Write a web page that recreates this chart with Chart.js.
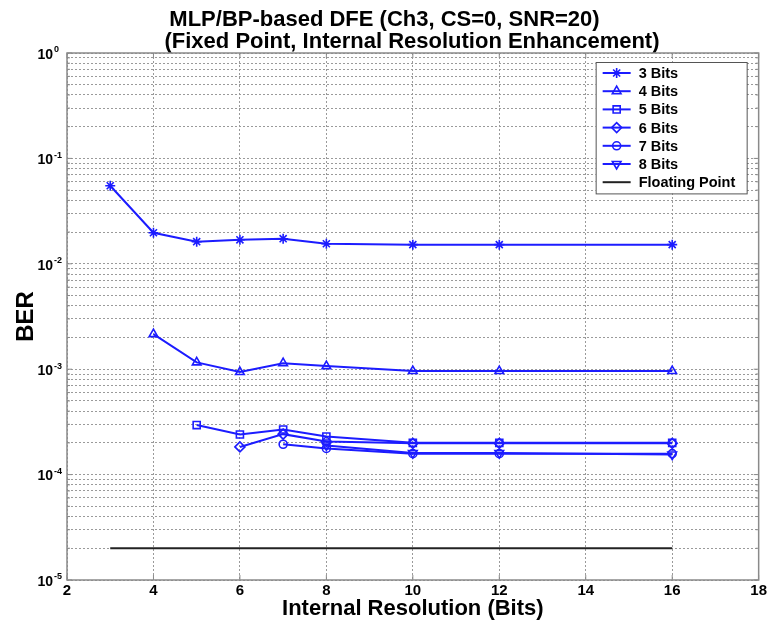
<!DOCTYPE html>
<html>
<head>
<meta charset="utf-8">
<script src="https://cdn.jsdelivr.net/npm/chart.js@4.4.1/dist/chart.umd.min.js"></script>
<style>
  html, body { margin: 0; padding: 0; background: #fff; }
</style>
</head>
<body>
<canvas id="berChart" width="769" height="623"></canvas>
<script>
// resolution interne (bits) testee
const resolution = [3, 4, 5, 6, 7, 8, 10, 12, 16];

// BER, null = pas de point
const ber3 = [0.055, 0.0197, 0.0162, 0.0169, 0.0173, 0.0155, 0.0152, 0.0152, 0.0152];
const ber4 = [null, 0.00215, 0.00116, 0.00094, 0.00114, 0.00107, 0.00096, 0.00096, 0.00096];
const ber5 = [null, null, 2.95e-4, 2.4e-4, 2.68e-4, 2.3e-4, 2.0e-4, 2.0e-4, 2.0e-4];
const ber6 = [null, null, null, 1.83e-4, 2.42e-4, 2.06e-4, 1.98e-4, 1.98e-4, 1.98e-4];
const ber7 = [null, null, null, null, 1.94e-4, 1.77e-4, 1.58e-4, 1.58e-4, 1.58e-4];
const ber8 = [null, null, null, null, null, 1.89e-4, 1.6e-4, 1.6e-4, 1.55e-4];

const seriesNames = ['3 Bits', '4 Bits', '5 Bits', '6 Bits', '7 Bits', '8 Bits'];
const seriesBER = [ber3, ber4, ber5, ber6, ber7, ber8];
const markers = ['star', 'triangle', 'rect', 'rectRot', 'circle', 'triangle'];
const markerRot = [0, 0, 0, 0, 0, 180];

// reference virgule flottante
const fpName = 'Floating Point';
const fpX = [3, 16];
const fpBER = [2e-5, 2e-5];

// axes
const xTicks = [2, 4, 6, 8, 10, 12, 14, 16, 18];
const yExponents = [-5, -4, -3, -2, -1, 0];
const yMinor = [1, 2, 3, 4, 5, 6, 7, 8, 9];

const BLUE = '#1c1cff';
const FONT = "'Liberation Sans', Arial, sans-serif";

const yTickValues = [];
yExponents.forEach(e => {
    if (e === 0) { yTickValues.push(1); return; }
    yMinor.forEach(m => yTickValues.push(parseFloat((m * Math.pow(10, e)).toPrecision(3))));
});

const datasets = seriesBER.map((vals, i) => ({
    label: seriesNames[i],
    data: resolution.map((x, j) => ({ x: x, y: vals[j] })).filter(p => p.y !== null),
    borderColor: BLUE,
    backgroundColor: 'rgba(0,0,0,0)',
    borderWidth: 2,
    pointStyle: markers[i],
    rotation: markerRot[i],
    pointRadius: markers[i] === 'circle' ? 4 : 5,
    pointBorderWidth: 1.6,
    pointBorderColor: BLUE,
    pointBackgroundColor: 'rgba(0,0,0,0)'
}));
datasets.push({
    label: fpName,
    data: fpX.map((x, j) => ({ x: x, y: fpBER[j] })),
    borderColor: '#222',
    borderWidth: 2,
    pointRadius: 0
});

// cadre + petites graduations facon MATLAB
const framePlugin = {
    id: 'frame',
    beforeDatasetsDraw(chart) {
        const { ctx, chartArea: a, scales } = chart;
        ctx.save();
        ctx.strokeStyle = '#8a8a8a';
        ctx.lineWidth = 1.5;
        ctx.strokeRect(a.left, a.top, a.right - a.left, a.bottom - a.top);
        ctx.lineWidth = 1;
        ctx.beginPath();
        xTicks.forEach(v => {
            const px = scales.x.getPixelForValue(v);
            ctx.moveTo(px, a.bottom); ctx.lineTo(px, a.bottom - 5);
            ctx.moveTo(px, a.top); ctx.lineTo(px, a.top + 5);
        });
        yTickValues.forEach(v => {
            const py = scales.y.getPixelForValue(v);
            const len = Math.abs(Math.log10(v) - Math.round(Math.log10(v))) < 1e-6 ? 5 : 3;
            ctx.moveTo(a.left, py); ctx.lineTo(a.left + len, py);
            ctx.moveTo(a.right, py); ctx.lineTo(a.right - len, py);
        });
        ctx.stroke();
        ctx.restore();
    },
    afterDraw(chart) {
        const { ctx, chartArea: a, scales } = chart;
        ctx.save();
        // labels 10^n
        ctx.fillStyle = '#000';
        yExponents.forEach(e => {
            const py = scales.y.getPixelForValue(Math.pow(10, e));
            ctx.font = 'bold 14px ' + FONT;
            ctx.textAlign = 'right';
            ctx.textBaseline = 'middle';
            ctx.fillText('10', a.left - 14, py + 2);
            ctx.font = 'bold 9px ' + FONT;
            ctx.textAlign = 'left';
            ctx.fillText(String(e), a.left - 13, py - 3);
        });

        // legende
        const items = chart.data.datasets;
        const w = 151, rowH = 18.2;
        const h = items.length * rowH + 4;
        const x0 = a.right - 12 - w, y0 = a.top + 9;
        ctx.fillStyle = '#fff';
        ctx.fillRect(x0, y0, w, h);
        ctx.strokeStyle = '#555';
        ctx.lineWidth = 1;
        ctx.strokeRect(x0 + 0.5, y0 + 0.5, w, h);
        items.forEach((ds, i) => {
            const cy = y0 + 11 + i * rowH;
            ctx.strokeStyle = ds.borderColor;
            ctx.lineWidth = ds.borderWidth;
            ctx.beginPath();
            ctx.moveTo(x0 + 7, cy); ctx.lineTo(x0 + 35, cy);
            ctx.stroke();
            if (ds.pointRadius > 0 && Chart.helpers && Chart.helpers.drawPoint) {
                ctx.fillStyle = 'rgba(0,0,0,0)';
                ctx.lineWidth = ds.pointBorderWidth;
                Chart.helpers.drawPoint(ctx, {
                    pointStyle: ds.pointStyle, rotation: ds.rotation,
                    radius: ds.pointRadius, borderWidth: ds.pointBorderWidth
                }, x0 + 21, cy);
            }
            ctx.fillStyle = '#000';
            ctx.font = 'bold 14.5px ' + FONT;
            ctx.textAlign = 'left';
            ctx.textBaseline = 'middle';
            ctx.fillText(ds.label, x0 + 43, cy + 1);
        });
        ctx.restore();
    }
};

new Chart(document.getElementById('berChart'), {
    type: 'line',
    data: { datasets: datasets },
    options: {
        responsive: false,
        animation: false,
        layout: { padding: { left: 0, right: 0, top: 0, bottom: 0 } },
        plugins: {
            legend: { display: false },
            tooltip: { enabled: false },
            title: {
                display: true,
                text: ['MLP/BP-based DFE (Ch3, CS=0, SNR=20)',
                       '         (Fixed Point, Internal Resolution Enhancement)'],
                color: '#000',
                font: { family: FONT, size: 22, weight: 'bold', lineHeight: 1.0 },
                padding: { top: 9, bottom: 0 }
            }
        },
        scales: {
            x: {
                type: 'linear',
                min: 2,
                max: 18,
                afterBuildTicks: s => { s.ticks = xTicks.map(v => ({ value: v })); },
                afterFit: s => { s.height = 43; },
                grid: { color: '#9a9a9a', lineWidth: 1, drawTicks: false },
                border: { display: false, dash: [2, 2] },
                ticks: { color: '#000', font: { family: FONT, size: 15, weight: 'bold' }, padding: 2, autoSkip: false, maxRotation: 0 },
                title: {
                    display: true,
                    text: 'Internal Resolution (Bits)',
                    color: '#000',
                    font: { family: FONT, size: 22, weight: 'bold' },
                    padding: { top: 0, bottom: 1 }
                }
            },
            y: {
                type: 'logarithmic',
                min: 1e-5,
                max: 1,
                afterBuildTicks: s => { s.ticks = yTickValues.map(v => ({ value: v })); },
                afterFit: s => { s.width = 67; },
                grid: { color: '#9a9a9a', lineWidth: 1, drawTicks: false },
                border: { display: false, dash: [2, 2] },
                ticks: { callback: () => '', autoSkip: false },
                title: {
                    display: true,
                    text: 'BER',
                    color: '#000',
                    font: { family: FONT, size: 24, weight: 'bold' },
                    padding: { top: 12, bottom: 0 }
                }
            }
        }
    },
    plugins: [framePlugin]
});
</script>
</body>
</html>
